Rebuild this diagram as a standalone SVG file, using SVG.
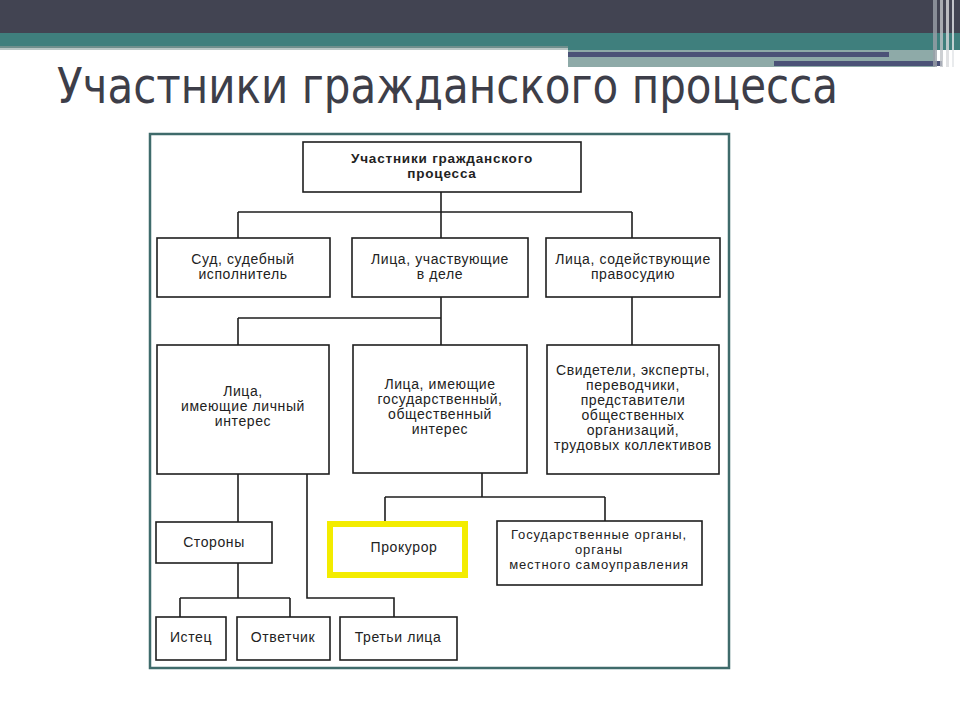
<svg xmlns="http://www.w3.org/2000/svg" width="960" height="720" viewBox="0 0 960 720">
<style>
.box{fill:#fff;stroke:#1e1e1e;stroke-width:1.6}
.ln{fill:none;stroke:#1e1e1e;stroke-width:1.6}
.t{font-family:"Liberation Sans",Arial,sans-serif;font-size:14px;letter-spacing:0.6px;fill:#222;text-anchor:middle}
.b{font-weight:bold;font-size:13.5px;letter-spacing:0.8px}
.s{font-size:13px;letter-spacing:0.9px}
</style>
<rect x="0" y="0" width="960" height="720" fill="#ffffff"/>
<g id="header">
<rect x="0" y="0" width="960" height="33" fill="#424452"/>
<rect x="0" y="33" width="960" height="13" fill="#3f7f7d"/>
<rect x="0" y="46" width="568" height="2" fill="#6f8f8d"/>
<rect x="0" y="48" width="568" height="2" fill="#b9c6c5"/>
<rect x="568" y="46" width="392" height="4" fill="#3f7f7d"/>
<rect x="568" y="50" width="367" height="17" fill="#8eaaa8"/>
<rect x="568" y="52" width="321" height="5" fill="#4b5277"/>
<rect x="774" y="61" width="168" height="5" fill="#4b5277"/>
<rect x="933" y="0" width="4" height="67" fill="#9aa0a8" opacity="0.8"/>
<rect x="940" y="0" width="3" height="67" fill="#c0c4c8" opacity="0.8"/>
<rect x="946" y="0" width="3" height="67" fill="#d8dadc" opacity="0.8"/>
<rect x="952" y="0" width="2" height="67" fill="#e4e6e8" opacity="0.8"/>
</g>
<text id="title" x="57" y="103" font-family="DejaVu Sans Condensed,'DejaVu Sans',sans-serif" font-size="49" fill="#3d3e49" textLength="781" lengthAdjust="spacingAndGlyphs">Участники гражданского процесса</text>
<rect id="frame" x="150" y="134" width="579" height="534" fill="#fff" stroke="#3f6b6b" stroke-width="2.5"/>
<g id="connectors">
<path class="ln" d="M441 192V212M238 212H632M238 212V238M441 212V238M632 212V238"/>
<path class="ln" d="M441 297V345M238 318H441M238 318V345M632 297V345"/>
<path class="ln" d="M238 474V522M307 474V598H394V617"/>
<path class="ln" d="M482 473V497M385 497H605M385 497V521M605 497V521"/>
<path class="ln" d="M238 563V598M180 598H290M180 598V617M290 598V617"/>
</g>
<g id="n-root"><rect class="box" x="303" y="142" width="278" height="50"/><text class="t b" x="442" y="163">Участники гражданского</text><text class="t b" x="442" y="178">процесса</text></g>
<g id="n-sud"><rect class="box" x="157" y="238" width="173" height="59"/><text class="t" x="243" y="264">Суд, судебный</text><text class="t" x="243" y="279">исполнитель</text></g>
<g id="n-uch"><rect class="box" x="352" y="238" width="176" height="59"/><text class="t" x="440" y="264">Лица, участвующие</text><text class="t" x="440" y="279">в деле</text></g>
<g id="n-sod"><rect class="box" x="546" y="238" width="174" height="59"/><text class="t" x="633" y="264">Лица, содействующие</text><text class="t" x="633" y="279">правосудию</text></g>
<g id="n-lich"><rect class="box" x="157" y="345" width="172" height="129"/><text class="t" x="243" y="396">Лица,</text><text class="t" x="243" y="411">имеющие личный</text><text class="t" x="243" y="426">интерес</text></g>
<g id="n-gos"><rect class="box" x="353" y="345" width="174" height="128"/><text class="t" x="440" y="389">Лица, имеющие</text><text class="t" x="440" y="404">государственный,</text><text class="t" x="440" y="419">общественный</text><text class="t" x="440" y="434">интерес</text></g>
<g id="n-svid"><rect class="box" x="547" y="345" width="172" height="129"/><text class="t" x="633" y="375">Свидетели, эксперты,</text><text class="t" x="633" y="390">переводчики,</text><text class="t" x="633" y="405">представители</text><text class="t" x="633" y="420">общественных</text><text class="t" x="633" y="435">организаций,</text><text class="t" x="633" y="450">трудовых коллективов</text></g>
<g id="n-storony"><rect class="box" x="156" y="522" width="116" height="41"/><text class="t" x="214" y="547">Стороны</text></g>
<g id="n-prok"><rect x="330" y="524" width="135" height="51" fill="#fff" stroke="#f3ec00" stroke-width="6"/><text class="t" x="404" y="552">Прокурор</text></g>
<g id="n-gosorg"><rect class="box" x="497" y="521" width="205" height="64"/><text class="t s" x="599" y="539">Государственные органы,</text><text class="t s" x="599" y="554">органы</text><text class="t s" x="599" y="569">местного самоуправления</text></g>
<g id="n-istec"><rect class="box" x="156" y="617" width="70" height="43"/><text class="t" x="191" y="642">Истец</text></g>
<g id="n-otv"><rect class="box" x="237" y="617" width="93" height="43"/><text class="t" x="283" y="642">Ответчик</text></g>
<g id="n-tret"><rect class="box" x="340" y="617" width="117" height="43"/><text class="t" x="398" y="642">Третьи лица</text></g>
</svg>
